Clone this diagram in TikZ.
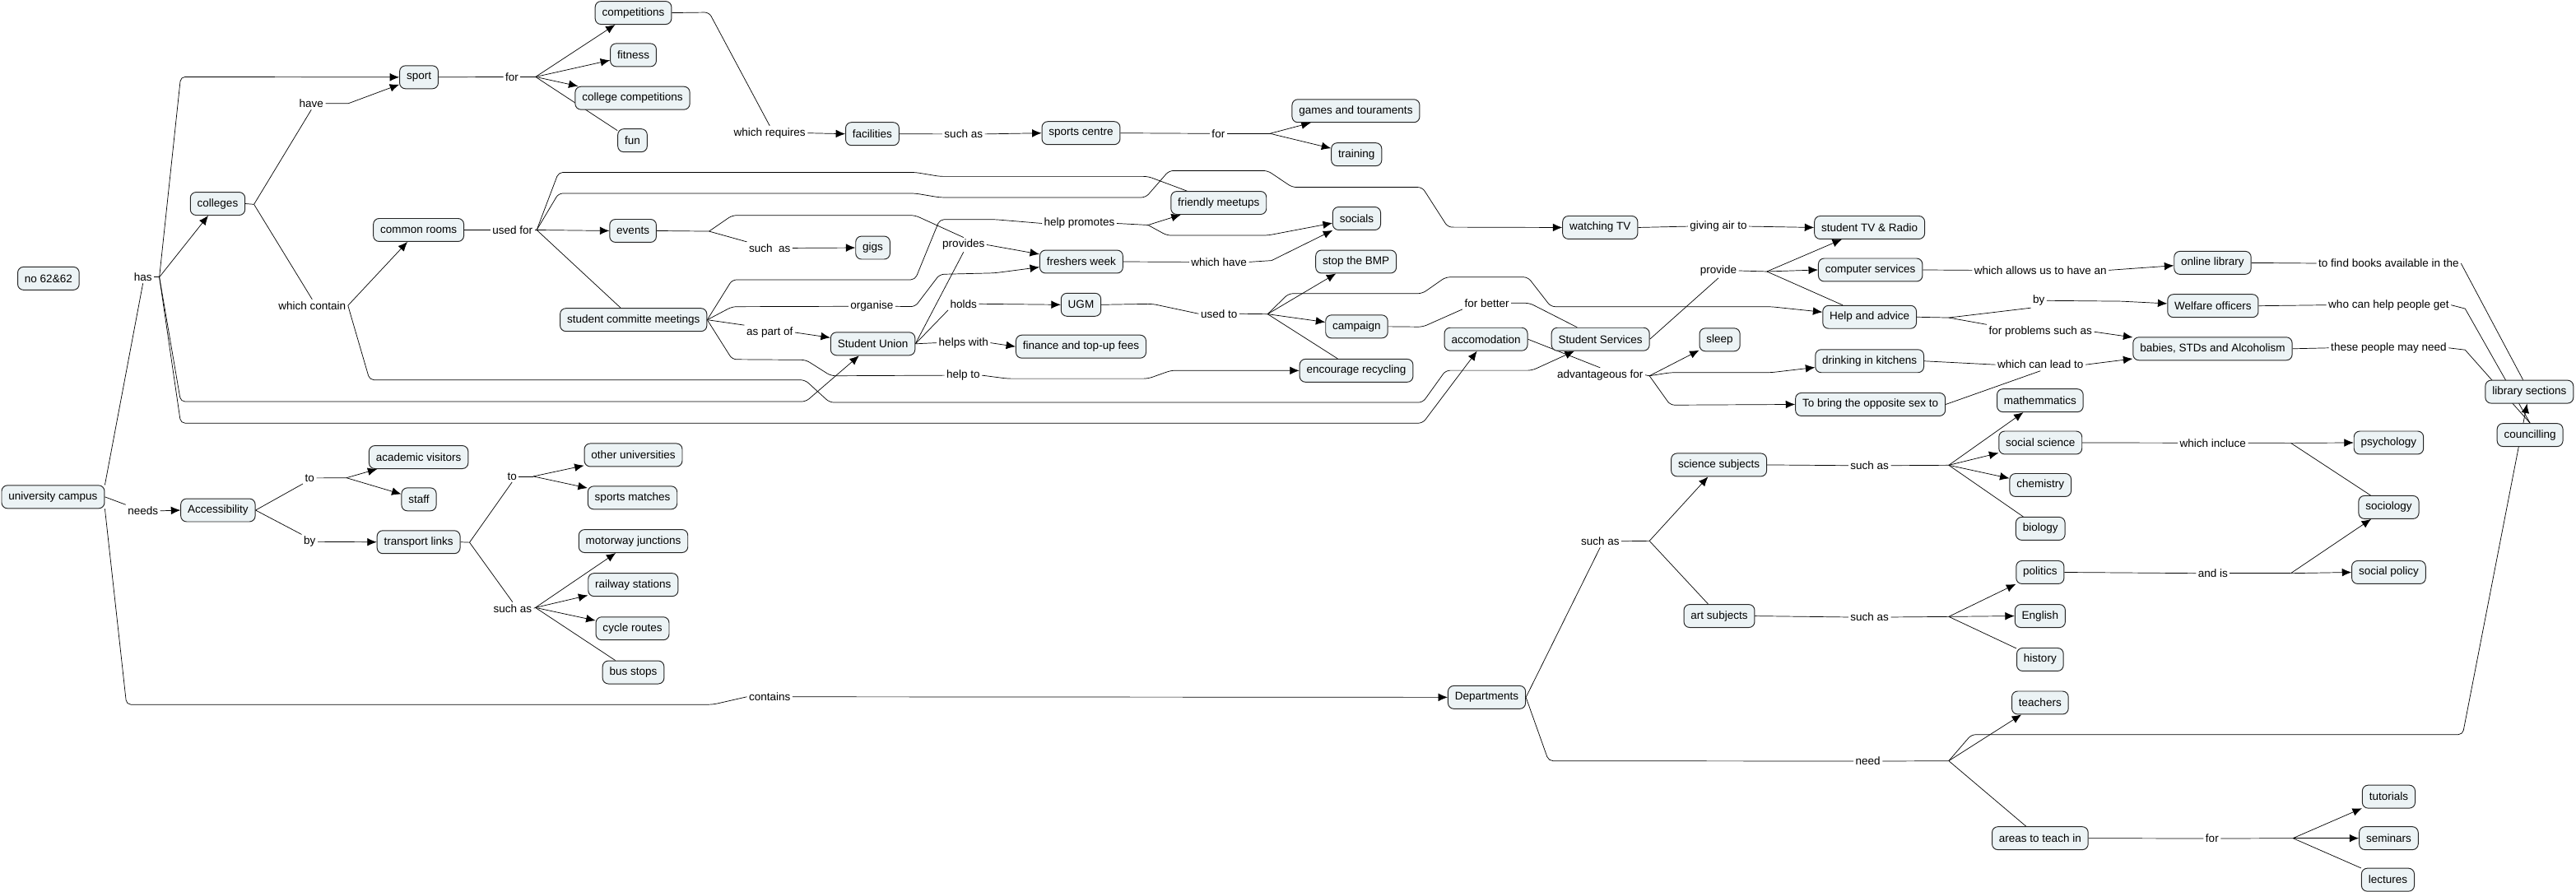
\documentclass[tikz,border=0pt]{standalone}
\usepackage{fontspec}
\setmainfont{Liberation Sans}
\usetikzlibrary{arrows.meta,backgrounds}
\definecolor{conceptfill}{RGB}{236,243,245}

\begin{document}
\begin{tikzpicture}[x=0.04cm, y=-0.04cm, line width=0.55pt,
        concept/.style={draw=black!85, fill=conceptfill, rounded corners=4pt,
            minimum height=0.56cm, inner xsep=4.8pt, font=\fontsize{7.7}{9}\selectfont},
        phrase/.style={inner sep=1.2pt, font=\fontsize{7.7}{9}\selectfont},
        leads/.style={-{Latex[length=6.5pt,width=5.5pt]}},
        bent/.style={rounded corners=3pt}
    ]
        \useasboundingbox (0,0) rectangle (1568,543);

        \node[concept] (no) at (29.5,169.5) {no 62\&62};
        \node[concept] (campus) at (32.3,302.5) {university campus};
        \node[concept] (colleges) at (132.5,124) {colleges};
        \node[concept] (sport) at (255,47) {sport};
        \node[concept] (competitions) at (385.5,7.8) {competitions};
        \node[concept] (fitness) at (385.5,33.5) {fitness};
        \node[concept] (collcomp) at (385,59.7) {college competitions};
        \node[concept] (fun) at (385,85.5) {fun};
        \node[concept] (facilities) at (531,81.5) {facilities};
        \node[concept] (sportscentre) at (658,81) {sports centre};
        \node[concept] (games) at (825.3,67.5) {games and touraments};
        \node[concept] (training) at (825.7,94) {training};
        \node[concept] (commonrooms) at (254.8,140) {common rooms};
        \node[concept] (events) at (385.3,140.5) {events};
        \node[concept] (gigs) at (531.3,150.8) {gigs};
        \node[concept] (scm) at (385.6,194.7) {student committe meetings};
        \node[concept] (friendly) at (741.8,123.5) {friendly meetups};
        \node[concept] (socials) at (825.8,133) {socials};
        \node[concept] (freshers) at (658.2,159.3) {freshers week};
        \node[concept] (ugm) at (658,185.5) {UGM};
        \node[concept] (sunion) at (531.3,209.3) {Student Union};
        \node[concept] (finance) at (658,211) {finance and top-up fees};
        \node[concept] (stopbmp) at (825.4,159.3) {stop the BMP};
        \node[concept] (campaign) at (825.8,198.8) {campaign};
        \node[concept] (recycling) at (825.6,225.6) {encourage recycling};
        \node[concept] (watchtv) at (974,138.5) {watching TV};
        \node[concept] (stutv) at (1138,138.5) {student TV \& Radio};
        \node[concept] (compserv) at (1138.5,164.3) {computer services};
        \node[concept] (helpadv) at (1138,193) {Help and advice};
        \node[concept] (accom) at (904.5,206.5) {accomodation};
        \node[concept] (stuserv) at (974.2,206.5) {Student Services};
        \node[concept] (sleep) at (1046.8,206.8) {sleep};
        \node[concept] (drinking) at (1138,219.8) {drinking in kitchens};
        \node[concept] (oppsex) at (1138.5,246.2) {To bring the opposite sex to};
        \node[concept] (onlinelib) at (1346.8,160) {online library};
        \node[concept] (welfare) at (1347,186.2) {Welfare officers};
        \node[concept] (babies) at (1346.8,212.3) {babies, STDs and Alcoholism};
        \node[concept] (libsec) at (1539.6,238.5) {library sections};
        \node[concept] (councilling) at (1540,264.8) {councilling};
        \node[concept] (science) at (1046.3,283) {science subjects};
        \node[concept] (art) at (1046.5,375) {art subjects};
        \node[concept] (depts) at (905,424.5) {Departments};
        \node[concept] (maths) at (1241.8,243.8) {mathemmatics};
        \node[concept] (socsci) at (1242,269.5) {social science};
        \node[concept] (chemistry) at (1242,295.3) {chemistry};
        \node[concept] (biology) at (1242,321.8) {biology};
        \node[concept] (politics) at (1241.8,348.4) {politics};
        \node[concept] (english) at (1241.8,375) {English};
        \node[concept] (history) at (1241.8,401.5) {history};
        \node[concept] (teachers) at (1241.8,427.8) {teachers};
        \node[concept] (areas) at (1241.8,510.3) {areas to teach in};
        \node[concept] (tutorials) at (1454,485) {tutorials};
        \node[concept] (seminars) at (1454,510.3) {seminars};
        \node[concept] (lectures) at (1453.5,535.6) {lectures};
        \node[concept] (psychology) at (1454,269.5) {psychology};
        \node[concept] (sociology) at (1454,308.8) {sociology};
        \node[concept] (socpolicy) at (1454,348.4) {social policy};
        \node[concept] (access) at (132.7,310.6) {Accessibility};
        \node[concept] (academic) at (254.8,278.3) {academic visitors};
        \node[concept] (staff) at (255,304) {staff};
        \node[concept] (transport) at (254.8,330) {transport links};
        \node[concept] (otheruni) at (385.5,277) {other universities};
        \node[concept] (sportsmatch) at (385,303) {sports matches};
        \node[concept] (motorway) at (385.5,329.4) {motorway junctions};
        \node[concept] (railway) at (385.4,356) {railway stations};
        \node[concept] (cycle) at (385,382.6) {cycle routes};
        \node[concept] (busstops) at (385.5,409.3) {bus stops};

        \node[phrase] (lhas) at (87,168.7) {has};
        \node[phrase] (lhave) at (189.5,63) {have};
        \node[phrase] (lcontain) at (190,186) {which contain};
        \node[phrase] (lforsport) at (311.6,46.8) {for};
        \node[phrase] (lusedfor) at (312,140) {used for};
        \node[phrase] (lrequires) at (468.5,81) {which requires};
        \node[phrase] (lsuchfac) at (586.5,81.6) {such as};
        \node[phrase] (lforcentre) at (741.6,81.3) {for};
        \node[phrase] (lsuchev) at (468.5,151) {such\ \ as};
        \node[phrase] (lprovides) at (586.5,149) {provides};
        \node[phrase] (lpromotes) at (657,136) {help promotes};
        \node[phrase] (lwhichhave) at (742,159.5) {which have};
        \node[phrase] (lorganise) at (530.7,186.5) {organise};
        \node[phrase] (lholds) at (586.5,185) {holds};
        \node[phrase] (lusedto) at (742,191) {used to};
        \node[phrase] (lpartof) at (468.5,202.4) {as part of};
        \node[phrase] (lhelpswith) at (586.5,208.7) {helps with};
        \node[phrase] (lhelpto) at (586.3,228.5) {help to};
        \node[phrase] (lgivingair) at (1046,137.8) {giving air to};
        \node[phrase] (lprovide) at (1046,164.8) {provide};
        \node[phrase] (lforbetter) at (905,184.5) {for better};
        \node[phrase] (ladvant) at (974,228.3) {advantageous for};
        \node[phrase] (lallows) at (1242,164.5) {which allows us to have an};
        \node[phrase] (lfindbooks) at (1454,160.3) {to find books available in the};
        \node[phrase] (lby) at (1241,183) {by};
        \node[phrase] (lwhocan) at (1454,185.7) {who can help people get};
        \node[phrase] (lproblems) at (1242,202) {for problems such as};
        \node[phrase] (lleadto) at (1242,222) {which can lead to};
        \node[phrase] (lmayneed) at (1454,211.8) {these people may need};
        \node[phrase] (linclude) at (1347,269.6) {which incluce};
        \node[phrase] (landis) at (1347,349) {and is};
        \node[phrase] (lsuchsci) at (1138,283.4) {such as};
        \node[phrase] (lsuchart) at (1138,375.7) {such as};
        \node[phrase] (lsuchdep) at (974,329.5) {such as};
        \node[phrase] (lneed) at (1137,463.4) {need};
        \node[phrase] (lforareas) at (1346.5,510.5) {for};
        \node[phrase] (lcontains) at (468.5,424.2) {contains};
        \node[phrase] (lneeds) at (87,311) {needs};
        \node[phrase] (ltoacc) at (188.5,291) {to};
        \node[phrase] (lbyacc) at (188.5,329.8) {by};
        \node[phrase] (ltotr) at (311.7,290) {to};
        \node[phrase] (lsuchtr) at (312,370.3) {such as};

        \coordinate (jhas) at (97,168.7);
        \coordinate (jcoll) at (154.6,124.4);
        \coordinate (jforsport) at (326,46.8);
        \coordinate (jusedfor) at (326.7,140);
        \coordinate (jevents) at (431.6,140.8);
        \coordinate (jforcentre) at (773,81.3);
        \coordinate (jpromotes) at (698.8,137);
        \coordinate (jusedto) at (771.6,191.2);
        \coordinate (jprovide) at (1075.5,165.3);
        \coordinate (jadvant) at (1004,228.8);
        \coordinate (jby) at (1186.2,193.4);
        \coordinate (jincl) at (1394.4,269.7);
        \coordinate (jandis) at (1394.4,349);
        \coordinate (jsuchsci) at (1186.2,283.2);
        \coordinate (jsuchart) at (1186.2,375.4);
        \coordinate (jsuchdep) at (1004,329.3);
        \coordinate (jneed) at (1186.2,463.2);
        \coordinate (jforareas) at (1395.7,510.3);
        \coordinate (jtoacc) at (210.9,290.9);
        \coordinate (jtr) at (285.8,330.2);
        \coordinate (jtotr) at (324.6,290);
        \coordinate (jsuchtr) at (325.9,369.9);

        \begin{scope}[on background layer]
        \draw (campus.north east) -- (lhas.south);
        \draw (lhas.east) -- (jhas);
        \draw[leads] (jhas) -- (colleges);
        \draw[leads, bent] (jhas) -- (110,46.8) -- (sport.west);
        \draw[leads, bent] (jhas) -- (110,244.5) -- (490.5,244.5) -- (sunion);
        \draw[leads, bent] (jhas) -- (110,257.6) -- (866,257.6) -- (accom);
        \draw (campus.east) -- (lneeds.north west);
        \draw[leads] (lneeds.east) -- (access.west);
        \draw[bent] (campus.south east) -- (77,428.9) -- (434,428.9) -- (lcontains.west);
        \draw[leads] (lcontains.east) -- (depts.west);

        \draw (colleges.east) -- (jcoll);
        \draw (jcoll) -- (lhave.south);
        \draw (jcoll) -- (lcontain.north);
        \draw[leads] (lhave.east) -- (212,63) -- (sport);
        \draw[leads] (lcontain.east) -- (commonrooms);
        \draw[leads, bent] (lcontain.east) -- (225,231.3) -- (490,231.3) -- (505,245) -- (866,245)
            -- (880,225.5) -- (932.5,225.5) -- (stuserv);

        \draw (sport.east) -- (lforsport.west);
        \draw (lforsport.east) -- (jforsport);
        \draw[leads] (jforsport) -- (competitions);
        \draw[leads] (jforsport) -- (fitness);
        \draw[leads] (jforsport) -- (collcomp);
        \draw (jforsport) -- (fun);
        \draw[bent] (competitions.east) -- (431.6,7.5) -- (lrequires.north);
        \draw[leads] (lrequires.east) -- (facilities.west);
        \draw (facilities.east) -- (lsuchfac.west);
        \draw[leads] (lsuchfac.east) -- (sportscentre.west);
        \draw (sportscentre.east) -- (lforcentre.west);
        \draw (lforcentre.east) -- (jforcentre);
        \draw[leads] (jforcentre) -- (games);
        \draw[leads] (jforcentre) -- (training);

        \draw (commonrooms.east) -- (lusedfor.west);
        \draw (lusedfor.east) -- (jusedfor);
        \draw[leads] (jusedfor) -- (events.west);
        \draw[bent] (jusedfor) -- (340,104.9) -- (557,104.9) -- (572,107.4) -- (698.8,107.4) -- (friendly);
        \draw[leads, bent] (jusedfor) -- (340,117.7) -- (557,117.7) -- (572,120.2) -- (697.4,120.2)
            -- (711.6,103.9) -- (771.6,103.9) -- (786.6,114) -- (865.7,114) -- (881.3,138.3) -- (watchtv.west);
        \draw (jusedfor) -- (scm);

        \draw (events.east) -- (jevents);
        \draw (jevents) -- (lsuchev.north west);
        \draw[leads] (lsuchev.east) -- (gigs.west);
        \draw[bent] (jevents) -- (445.7,131.1) -- (557,131.1) -- (lprovides.north);
        \draw[leads] (lprovides.east) -- (freshers);
        \draw (sunion.east) -- (lprovides.south);
        \draw (sunion.east) -- (lholds.south west);
        \draw[leads] (lholds.east) -- (ugm.west);
        \draw (sunion.east) -- (lhelpswith.west);
        \draw[leads] (lhelpswith.east) -- (finance.west);

        \draw[bent] (scm.east) -- (445.7,170.3) -- (557,170.3) -- (572,133.6) -- (605.5,133.6) -- (lpromotes.west);
        \draw (lpromotes.east) -- (jpromotes);
        \draw[leads] (jpromotes) -- (friendly);
        \draw[leads, bent] (jpromotes) -- (710.3,143.3) -- (771.6,143.3) -- (socials);
        \draw (freshers.east) -- (lwhichhave.west);
        \draw[leads] (lwhichhave.east) -- (774,158.6) -- (socials);
        \draw[bent] (scm.east) -- (445.7,186.7) -- (lorganise.west);
        \draw[leads, bent] (lorganise.east) -- (557,186.7) -- (572,167) -- (605.5,166.2) -- (freshers);
        \draw (scm.east) -- (lpartof.north west);
        \draw[leads] (lpartof.east) -- (sunion);
        \draw[bent] (scm.east) -- (445.7,218.8) -- (490.5,219.1) -- (505.8,228.8) -- (lhelpto.west);
        \draw[leads, bent] (lhelpto.east) -- (613.2,230.5) -- (698.8,230.5) -- (712.9,225.5) -- (recycling.west);

        \draw[bent] (ugm.east) -- (701.4,185) -- (lusedto.west);
        \draw (lusedto.east) -- (jusedto);
        \draw[leads] (jusedto) -- (stopbmp);
        \draw[leads] (jusedto) -- (campaign);
        \draw (jusedto) -- (recycling);
        \draw[leads, bent] (jusedto) -- (784.4,178.7) -- (865.7,178.7) -- (880,168.7) -- (930,168.7)
            -- (944,186.7) -- (1078,186.7) -- (helpadv);
        \draw[bent] (campaign.east) -- (866,199) -- (lforbetter.south west);
        \draw[bent] (lforbetter.east) -- (931,184.5) -- (stuserv);

        \draw (accom.east) -- (ladvant.north);
        \draw (ladvant.east) -- (jadvant);
        \draw[leads] (jadvant) -- (sleep);
        \draw[leads, bent] (jadvant) -- (1016.7,226.8) -- (1078,226.8) -- (drinking);
        \draw[leads, bent] (jadvant) -- (1016.7,246.6) -- (oppsex.west);
        \draw (stuserv.east) -- (lprovide.south);
        \draw (lprovide.east) -- (jprovide);
        \draw[leads] (jprovide) -- (stutv);
        \draw[leads] (jprovide) -- (compserv.west);
        \draw (jprovide) -- (helpadv);
        \draw (watchtv.east) -- (lgivingair.west);
        \draw[leads] (lgivingair.east) -- (stutv.west);

        \draw (compserv.east) -- (lallows.west);
        \draw[leads] (lallows.east) -- (onlinelib);
        \draw (onlinelib.east) -- (lfindbooks.west);
        \draw (lfindbooks.east) -- (libsec);
        \draw (helpadv.east) -- (jby);
        \draw (jby) -- (lby.south west);
        \draw[leads] (lby.east) -- (1291,183.4) -- (welfare);
        \draw (jby) -- (lproblems.north west);
        \draw[leads] (lproblems.east) -- (babies);
        \draw (welfare.east) -- (lwhocan.west);
        \draw (lwhocan.east) -- (1500.5,187.9) -- (councilling.north);
        \draw (drinking.east) -- (lleadto.west);
        \draw (oppsex.east) -- (lleadto.south);
        \draw[leads] (lleadto.east) -- (babies);
        \draw (babies.east) -- (lmayneed.west);
        \draw (lmayneed.east) -- (1500.5,213) -- (councilling.north);

        \draw (depts.east) -- (lsuchdep.south);
        \draw (lsuchdep.east) -- (jsuchdep);
        \draw[leads] (jsuchdep) -- (science);
        \draw (jsuchdep) -- (art);
        \draw[bent] (depts.east) -- (942.6,463.2) -- (lneed.west);
        \draw (lneed.east) -- (jneed);
        \draw[leads] (jneed) -- (teachers);
        \draw (jneed) -- (areas);
        \draw[leads, bent] (jneed) -- (1200,447.2) -- (1499,447.2) -- (libsec);

        \draw (science.east) -- (lsuchsci.west);
        \draw (lsuchsci.east) -- (jsuchsci);
        \draw[leads] (jsuchsci) -- (maths);
        \draw[leads] (jsuchsci) -- (socsci);
        \draw[leads] (jsuchsci) -- (chemistry);
        \draw (jsuchsci) -- (biology);
        \draw (art.east) -- (lsuchart.west);
        \draw (lsuchart.east) -- (jsuchart);
        \draw[leads] (jsuchart) -- (politics);
        \draw[leads] (jsuchart) -- (english.west);
        \draw (jsuchart) -- (history);
        \draw (socsci.east) -- (linclude.west);
        \draw (linclude.east) -- (jincl);
        \draw[leads] (jincl) -- (psychology.west);
        \draw (jincl) -- (sociology);
        \draw (politics.east) -- (landis.west);
        \draw (landis.east) -- (jandis);
        \draw[leads] (jandis) -- (socpolicy.west);
        \draw[leads] (jandis) -- (sociology);
        \draw (areas.east) -- (lforareas.west);
        \draw (lforareas.east) -- (jforareas);
        \draw[leads] (jforareas) -- (tutorials);
        \draw[leads] (jforareas) -- (seminars.west);
        \draw (jforareas) -- (lectures);

        \draw (access.east) -- (ltoacc.south west);
        \draw (ltoacc.east) -- (jtoacc);
        \draw[leads] (jtoacc) -- (academic);
        \draw[leads] (jtoacc) -- (staff);
        \draw (access.east) -- (lbyacc.north west);
        \draw[leads] (lbyacc.east) -- (transport.west);
        \draw (transport.east) -- (jtr);
        \draw (jtr) -- (ltotr.south);
        \draw (ltotr.east) -- (jtotr);
        \draw[leads] (jtotr) -- (otheruni);
        \draw[leads] (jtotr) -- (sportsmatch);
        \draw (jtr) -- (lsuchtr.north);
        \draw (lsuchtr.east) -- (jsuchtr);
        \draw[leads] (jsuchtr) -- (motorway);
        \draw[leads] (jsuchtr) -- (railway);
        \draw[leads] (jsuchtr) -- (cycle);
        \draw (jsuchtr) -- (busstops);
        \end{scope}
    \end{tikzpicture}
\end{document}
